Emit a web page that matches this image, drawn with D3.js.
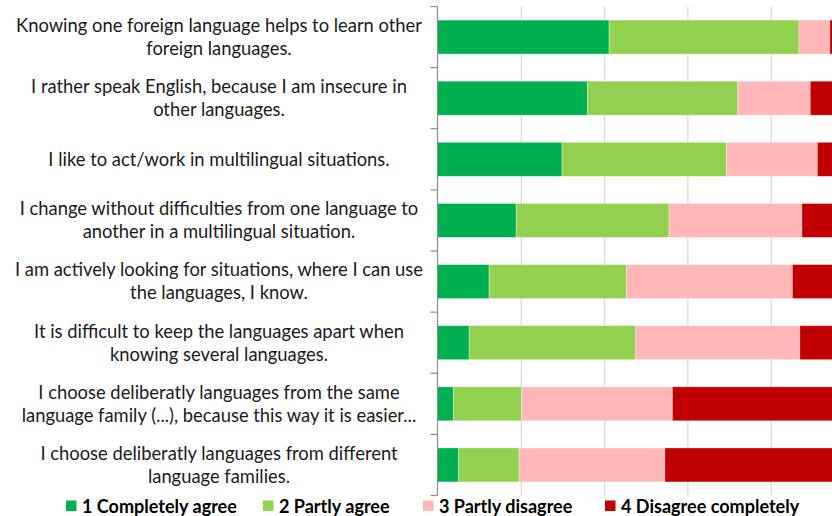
<!DOCTYPE html>
<html>
    <head>
        <meta charset="UTF-8">
        <title>Language attitudes</title>
        <script src="https://d3js.org/d3.v7.min.js"></script>
        <style>
            body {
                margin:0;
                padding:0;
                background:#fff;
                overflow:hidden;
            }
            svg { display:block; }
        </style>
    </head>
    <body>
        <div id="chart"></div>
        <script>
            // statements, with the line breaks seen in the picture
            var statements = [
                "Knowing one foreign language helps to learn other\nforeign languages.",
                "I rather speak English, because I am insecure in\nother languages.",
                "I like to act/work in multilingual situations.",
                "I change without difficulties from one language to\nanother in a multilingual situation.",
                "I am actively looking for situations, where I can use\nthe languages, I know.",
                "It is difficult to keep the languages apart when\nknowing several languages.",
                "I choose deliberatly languages from the same\nlanguage family (...), because this way it is easier...",
                "I choose deliberatly languages from different\nlanguage families."
            ];
            var answers = ["1 Completely agree", "2 Partly agree", "3 Partly disagree", "4 Disagree completely"];
            // share of answers in percent, one value per statement
            var completelyAgree    = [41.2, 36.0, 29.9, 18.9, 12.4,  7.6,  3.8,  5.1];
            var partlyAgree        = [45.6, 36.1, 39.5, 36.7, 33.0, 40.0, 16.4, 14.5];
            var partlyDisagree     = [ 7.4, 17.4, 21.8, 31.9, 39.8, 39.4, 36.2, 35.0];
            var disagreeCompletely = [ 5.8, 10.5,  8.8, 12.5, 14.8, 13.0, 43.6, 45.4];
            var gridTicks = [20, 40, 60, 80, 100];

            var colors = ["#00b050", "#92d050", "#ffb7b7", "#c00000"];

            // build rows for the stack
            var rows = statements.map((s, i) => ({
                statement: s,
                [answers[0]]: completelyAgree[i],
                [answers[1]]: partlyAgree[i],
                [answers[2]]: partlyDisagree[i],
                [answers[3]]: disagreeCompletely[i]
            }));
            var series = d3.stack().keys(answers)(rows);

            var svgWidth = 832, svgHeight = 516;
            var svg = d3.select('#chart').append('svg')
                .attr('width', svgWidth)
                .attr('height', svgHeight);

            // the chart is cropped on the right: 100% sits past the window edge
            var x = d3.scaleLinear().domain([0, 100]).range([437.5, 854]);
            var y = d3.scaleBand().domain(statements)
                .range([6.5, 495.5])
                .paddingInner(0.444)
                .paddingOuter(0.222);

            // vertical gridlines
            var grid = svg.append('g')
                .attr('transform', `translate(0, ${y.range()[0]})`)
                .call(d3.axisTop(x).tickValues(gridTicks).tickSize(-(y.range()[1] - y.range()[0])).tickFormat(''));
            grid.select('.domain').remove();
            grid.selectAll('line').attr('stroke', '#d9d9d9').attr('stroke-width', 1.2);

            // stacked bars
            svg.append('g')
                .selectAll('g')
                .data(series)
                .join('g')
                .attr('fill', (d, i) => colors[i])
                .selectAll('rect')
                .data(d => d)
                .join('rect')
                .attr('x', d => x(d[0]))
                .attr('y', d => y(d.data.statement))
                .attr('width', d => x(d[1]) - x(d[0]))
                .attr('height', y.bandwidth())
                .attr('stroke', 'rgba(255,255,255,0.45)')
                .attr('stroke-width', 0.75);

            // category axis with ticks between categories
            var y0 = y.range()[0], y1 = y.range()[1];
            var step = y.step();
            var axis = svg.append('g').attr('stroke', '#8c8c8c').attr('stroke-width', 1.2);
            axis.append('line')
                .attr('x1', x(0)).attr('x2', x(0))
                .attr('y1', y0).attr('y2', y1);
            axis.selectAll('line.tick')
                .data(d3.range(statements.length + 1))
                .join('line')
                .attr('class', 'tick')
                .attr('x1', x(0) - 7).attr('x2', x(0))
                .attr('y1', d => y0 + d * step)
                .attr('y2', d => y0 + d * step);

            // statement labels, centered block left of the axis
            var font = 'Lato, "Open Sans", sans-serif';
            var probe = svg.append('text').attr('font-family', font).attr('font-size', 16)
                .text(statements[0].split('\n')[0]);
            var labelSize = 16 * 406 / probe.node().getComputedTextLength();
            probe.remove();
            var labelCenter = 219;
            var lineGap = 23;
            statements.forEach(s => {
                var lines = s.split('\n');
                var cy = y(s) + y.bandwidth() / 2;
                lines.forEach((line, j) => {
                    svg.append('text')
                        .attr('x', labelCenter)
                        .attr('y', cy + (j - (lines.length - 1) / 2) * lineGap)
                        .attr('dy', '0.35em')
                        .attr('text-anchor', 'middle')
                        .attr('font-family', font)
                        .attr('font-size', labelSize)
                        .attr('fill', '#1a1a1a')
                        .text(line);
                });
            });

            // legend
            var legendX = [66, 263, 423, 605];
            var probe2 = svg.append('text').attr('font-family', font).attr('font-size', 16)
                .attr('font-weight', 'bold').text(answers[0]);
            var legendSize = 16 * 155 / probe2.node().getComputedTextLength();
            probe2.remove();
            var legend = svg.append('g')
                .selectAll('g')
                .data(answers)
                .join('g')
                .attr('transform', (d, i) => `translate(${legendX[i]}, 506)`);
            legend.append('rect')
                .attr('x', 0).attr('y', -5.5)
                .attr('width', 10.5).attr('height', 10.5)
                .attr('fill', (d, i) => colors[i]);
            legend.append('text')
                .attr('x', 16)
                .attr('dy', '0.36em')
                .attr('font-family', font)
                .attr('font-size', legendSize)
                .attr('font-weight', 'bold')
                .attr('fill', '#000')
                .text(d => d);
        </script>
    </body>
</html>
